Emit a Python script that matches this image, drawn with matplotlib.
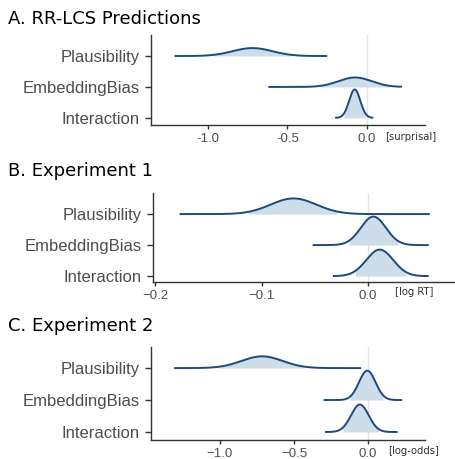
import numpy as np
import matplotlib
matplotlib.use("Agg")
import matplotlib.pyplot as plt

terms = ["Plausibility", "EmbeddingBias", "Interaction"]

# A. RR-LCS predictions (surprisal)
a_mean = [-0.72, -0.075, -0.077]
a_sd = [0.125, 0.105, 0.035]
a_min = [-1.21, -0.62, -0.20]
a_max = [-0.25, 0.22, 0.04]
a_qlo = [-0.97, -0.29, -0.145]
a_qhi = [-0.47, 0.14, -0.008]
a_ticks = [-1.0, -0.5, 0.0]
a_ticklabels = ["-1.0", "-0.5", "0.0"]

# B. Experiment 1 (log RT)
b_mean = [-0.070, 0.005, 0.011]
b_sd = [0.0215, 0.0118, 0.0127]
b_min = [-0.177, -0.052, -0.033]
b_max = [0.058, 0.057, 0.057]
b_qlo = [-0.113, -0.018, -0.012]
b_qhi = [-0.029, 0.028, 0.035]
b_ticks = [-0.2, -0.1, 0.0]
b_ticklabels = ["\u22120.2", "\u22120.1", "0.0"]

# C. Experiment 2 (log-odds)
c_mean = [-0.716, -0.005, -0.055]
c_sd = [0.14, 0.056, 0.060]
c_min = [-1.31, -0.30, -0.29]
c_max = [-0.047, 0.23, 0.20]
c_qlo = [-1.01, -0.12, -0.17]
c_qhi = [-0.43, 0.10, 0.07]
c_ticks = [-1.0, -0.5, 0.0]
c_ticklabels = ["\u22121.0", "\u22120.5", "0.0"]

W, H = 455, 459
linecol = "#1d4a7c"
fillcol = "#cddeea"
textgray = "#4d4d4d"


def fx(px):
    return px / W


def fy(py):
    return 1 - py / H


def ridges(ax, mean, sd, xmin, xmax, qlo, qhi, scale=0.92):
    peak = max(1.0 / s for s in sd)
    n = len(terms)
    for i in range(n):
        row = n - 1 - i
        x = np.linspace(xmin[i], xmax[i], 400)
        dens = np.exp(-0.5 * ((x - mean[i]) / sd[i]) ** 2) / sd[i]
        h = scale * dens / peak
        inside = (x >= qlo[i]) & (x <= qhi[i])
        ax.fill_between(x, row, row + h, where=inside, color=fillcol,
                        linewidth=0, zorder=2 + i)
        ax.plot(x, row + h, color=linecol, linewidth=1.4, zorder=3 + i,
                solid_capstyle="butt")


def panel(rect, title, title_py, mean, sd, xmin, xmax, qlo, qhi,
          xlim, ylim, ticks, ticklabels, unit, unit_px, unit_py):
    ax = fig.add_axes(rect)
    ax.axvline(0, color="#e3e3e3", linewidth=1.0, zorder=1)
    ridges(ax, mean, sd, xmin, xmax, qlo, qhi)
    ax.set_xlim(xlim)
    ax.set_ylim(ylim)
    ax.set_yticks([2, 1, 0])
    ax.set_yticklabels(terms, fontsize=12, color=textgray,
                       family="Liberation Sans")
    ax.set_xticks(ticks)
    ax.set_xticklabels(ticklabels, fontsize=9.5, color=textgray,
                       family="Liberation Sans")
    for s in ["top", "right"]:
        ax.spines[s].set_visible(False)
    for s in ["left", "bottom"]:
        ax.spines[s].set_color("#333333")
        ax.spines[s].set_linewidth(1.0)
    ax.tick_params(axis="y", length=4, width=1.0, color="#333333", pad=4)
    ax.tick_params(axis="x", length=3, width=1.0, color="#333333", pad=3)
    fig.text(fx(8), fy(title_py), title, fontsize=13, color="black",
             ha="left", va="baseline", family="DejaVu Sans")
    fig.text(fx(unit_px), fy(unit_py), unit, fontsize=7.2, color="#333333",
             ha="left", va="center", family="DejaVu Sans")
    return ax


fig = plt.figure(figsize=(W / 100, H / 100), dpi=100)

panel([fx(151), fy(125), fx(425) - fx(151), fy(35) - fy(125)],
      "A. RR-LCS Predictions", 24,
      a_mean, a_sd, a_min, a_max, a_qlo, a_qhi,
      (-1.358, 0.365), (-0.23, 2.68), a_ticks, a_ticklabels,
      "[surprisal]", 385, 137)

panel([fx(153), fy(282), fx(455) - fx(153), fy(193) - fy(282)],
      "B. Experiment 1", 176,
      b_mean, b_sd, b_min, b_max, b_qlo, b_qhi,
      (-0.202, 0.0817), (-0.19, 2.68), b_ticks, b_ticklabels,
      "[log RT]", 395, 292)

panel([fx(151), fy(440), fx(425) - fx(151), fy(347) - fy(440)],
      "C. Experiment 2", 331,
      c_mean, c_sd, c_min, c_max, c_qlo, c_qhi,
      (-1.466, 0.385), (-0.25, 2.66), c_ticks, c_ticklabels,
      "[log-odds]", 388, 451)

fig.savefig("out.png", dpi=100)
